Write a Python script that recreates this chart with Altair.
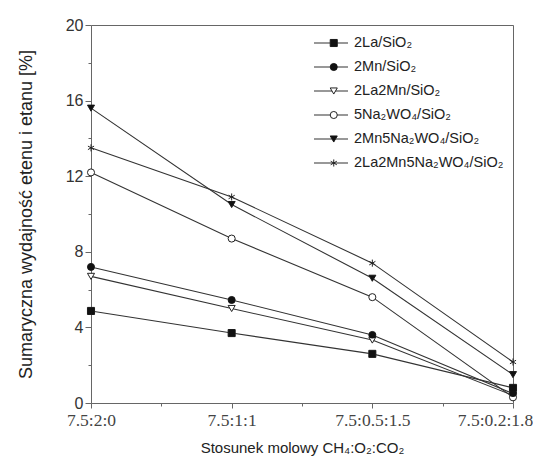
import altair as alt
import pandas as pd

ratios = ["7.5:2:0", "7.5:1:1", "7.5:0.5:1.5", "7.5:0.2:1.8"]
series = ["2La/SiO₂", "2Mn/SiO₂", "2La2Mn/SiO₂", "5Na₂WO₄/SiO₂",
          "2Mn5Na₂WO₄/SiO₂", "2La2Mn5Na₂WO₄/SiO₂"]
v_2La = [4.87, 3.7, 2.6, 0.8]
v_2Mn = [7.2, 5.45, 3.6, 0.5]
v_2La2Mn = [6.7, 5.0, 3.33, 0.4]
v_5Na = [12.2, 8.7, 5.6, 0.3]
v_2Mn5Na = [15.6, 10.5, 6.6, 1.5]
v_2La2Mn5Na = [13.5, 10.9, 7.4, 2.17]
all_vals = [v_2La, v_2Mn, v_2La2Mn, v_5Na, v_2Mn5Na, v_2La2Mn5Na]

STAR = "M0,-1L0,1M-0.87,-0.5L0.87,0.5M-0.87,0.5L0.87,-0.5"
EMPTY = "M0,0L0,0"
outline_shapes = ["square", "circle", "triangle-down", "circle", "triangle-down", STAR]
solid_shapes = ["square", "circle", EMPTY, EMPTY, "triangle-down", EMPTY]

rows = []
for s, vals in zip(series, all_vals):
    for i, (r, v) in enumerate(zip(ratios, vals)):
        rows.append({"series": s, "label": s, "solid": s, "ratio": r, "idx": i, "value": v})
df = pd.DataFrame(rows)

arr = "[" + ",".join("'" + r + "'" for r in ratios) + "]"
x_axis = alt.Axis(
    values=[0, 0.5, 1, 1.5, 2, 2.5, 3],
    labelExpr=f"datum.value % 1 === 0 ? {arr}[datum.value] : ''",
    tickSize={"condition": {"test": "datum.value % 1 === 0", "value": 5}, "value": 3},
    labelOffset={"condition": {"test": "datum.value === 3", "value": -18}, "value": 0},
    labelFlush=False, labelOverlap=False,
    labelFont="Liberation Serif", labelFontSize=17.5, labelColor="#444",
    labelPadding=3, grid=False, domainColor="#666", tickColor="#666",
    title="Stosunek molowy CH₄:O₂:CO₂", titleFont="Liberation Sans",
    titleFontSize=15, titleFontWeight="normal", titleColor="#222", titlePadding=12,
)
y_axis = alt.Axis(
    values=list(range(0, 21, 2)),
    labelExpr="datum.value % 4 === 0 ? datum.label : ''",
    tickSize={"condition": {"test": "datum.value % 4 === 0", "value": 6}, "value": 3},
    labelFlush=False,
    labelFont="Liberation Sans", labelFontSize=16, labelColor="#333",
    labelPadding=2, grid=False, domainColor="#666", tickColor="#666",
    title="Sumaryczna wydajność etenu i etanu [%]", titleFont="Liberation Sans",
    titleFontSize=18, titleFontWeight="normal", titleColor="#222", titlePadding=30,
)

xs = alt.Scale(domain=[0, 3], nice=False)
ys = alt.Scale(domain=[0, 20], nice=False)
x = alt.X("idx:Q", scale=xs, axis=x_axis)
y = alt.Y("value:Q", scale=ys, axis=y_axis)

common_leg = dict(orient="none", legendY=8, title=None, clipHeight=20,
                  rowPadding=4, padding=0, labelFontSize=14.5)

lines = alt.Chart(df).mark_line(strokeWidth=1.1).encode(
    x=x, y=y,
    stroke=alt.Stroke("label:N", sort=series,
                      scale=alt.Scale(domain=series, range=["#333333"] * 6),
                      legend=alt.Legend(legendX=222, symbolType="stroke",
                                        symbolSize=1156, symbolStrokeWidth=1.1,
                                        labelOffset=5, labelFont="Liberation Sans",
                                        labelColor="#222", labelLimit=300, zindex=0,
                                        **common_leg)),
    detail="series:N",
)

outline_pts = alt.Chart(df).mark_point(size=50, strokeWidth=1, opacity=1,
                                       color="#222222", fill="#ffffff",
                                       filled=False).encode(
    x=x, y=y,
    shape=alt.Shape("series:N", sort=series,
                    scale=alt.Scale(domain=series, range=outline_shapes),
                    legend=alt.Legend(legendX=235.5, symbolSize=50,
                                      symbolStrokeWidth=1, labelOpacity=0,
                                      zindex=1, **common_leg)),
)

solid_pts = alt.Chart(df).mark_point(size=50, filled=True, opacity=1,
                                     color="#111111").encode(
    x=x, y=y,
    shape=alt.Shape("solid:N", sort=series,
                    scale=alt.Scale(domain=series, range=solid_shapes),
                    legend=alt.Legend(legendX=235.5, symbolSize=50,
                                      labelOpacity=0,
                                      zindex=2, **common_leg)),
)

main = alt.layer(lines, outline_pts, solid_pts).resolve_scale(
    stroke="independent", shape="independent"
).resolve_legend(
    stroke="independent", shape="independent"
)

frame = alt.Chart(df).mark_point(opacity=0).encode(
    x=alt.X("idx:Q", scale=xs, axis=alt.Axis(orient="top", labels=False, ticks=False,
                                              title=None, grid=False, domainColor="#666")),
    y=alt.Y("value:Q", scale=ys, axis=alt.Axis(orient="right", labels=False, ticks=False,
                                                title=None, grid=False, domainColor="#666")),
)

chart = alt.layer(main, frame).resolve_scale(
    x="independent", y="independent"
).properties(
    width=422, height=378,
    autosize=alt.AutoSizeParams(type="none"),
    padding={"left": 83, "top": 17, "right": 20, "bottom": 55},
).configure_view(stroke="#666666", strokeWidth=1.2).configure(background="white")

chart.save("out.html", embed_options={"renderer": "svg", "actions": False})
